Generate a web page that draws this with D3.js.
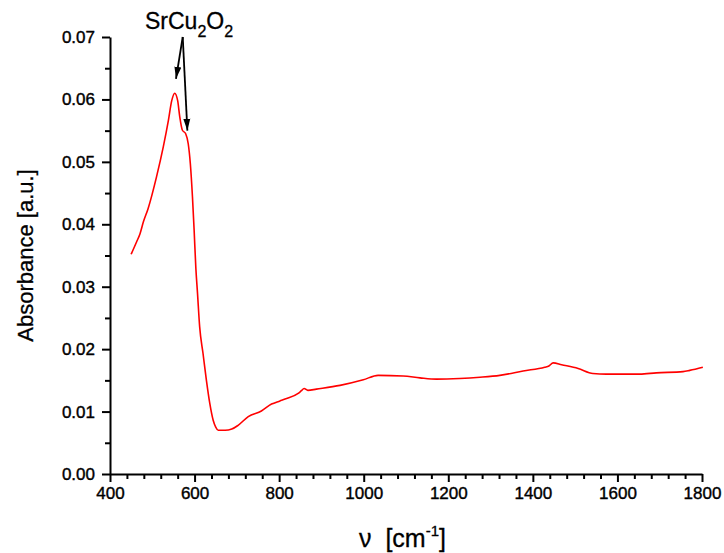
<!DOCTYPE html>
<html>
<head>
<meta charset="utf-8">
<script src="https://cdn.jsdelivr.net/npm/d3@7"></script>
<style>
  body { margin: 0; background: #fff; }
  text { font-family: "Liberation Sans", Arial, sans-serif; }
</style>
</head>
<body>
<div id="chart"></div>
<script>
// spectrum
const wavenumber = [450, 463, 471, 479, 490, 510, 526, 538, 546, 553, 560, 565, 571, 579, 585, 590, 595, 599,
  603, 607, 612, 620, 628, 636, 644, 650, 656, 672, 688, 703, 727, 758, 782, 802, 814, 845, 852, 859, 868,
  888, 944, 999, 1034, 1093, 1133, 1172, 1227, 1275, 1322, 1377, 1428, 1438, 1448, 1468, 1507, 1542, 1574,
  1653, 1692, 1755, 1771, 1802];
const absorbance = [0.0352, 0.0372, 0.0385, 0.0404, 0.0425, 0.0476, 0.0524, 0.0566, 0.0598, 0.0610, 0.0598,
  0.0572, 0.0551, 0.0545, 0.0529, 0.0497, 0.0444, 0.0390, 0.0330, 0.0289, 0.0236, 0.0193, 0.0150, 0.0113,
  0.0086, 0.0075, 0.0070, 0.0070, 0.0072, 0.0078, 0.0092, 0.0101, 0.0112, 0.0117, 0.0120, 0.0129, 0.0133,
  0.0137, 0.0134, 0.0136, 0.0142, 0.0151, 0.0158, 0.0157, 0.0154, 0.0152, 0.0153, 0.0155, 0.0158, 0.0165,
  0.0171, 0.0173, 0.0178, 0.0175, 0.0169, 0.0161, 0.0160, 0.0160, 0.0162, 0.0164, 0.0166, 0.0171];

const xTicks = [400, 600, 800, 1000, 1200, 1400, 1600, 1800];
const yTicks = [0, 0.01, 0.02, 0.03, 0.04, 0.05, 0.06, 0.07];

// annotation: label origin and the two arrow tips (data units)
const arrowStart = [572, 0.0700];
const arrowTips = [[556, 0.0633], [583, 0.0550]];

const width = 724, height = 553;
const margin = { top: 37, right: 22, bottom: 79, left: 110 };

const svg = d3.select("#chart").append("svg")
  .attr("width", width)
  .attr("height", height);

const x = d3.scaleLinear().domain([400, 1800]).range([margin.left, width - margin.right]);
const y = d3.scaleLinear().domain([0, 0.07]).range([height - margin.bottom, margin.top]);

// minor ticks
const xMinor = d3.range(400, 1801, 40).filter(v => v % 200 != 0);
const yMinor = d3.range(0.005, 0.07, 0.01);

svg.append("g")
  .attr("transform", "translate(0," + y(0) + ")")
  .call(d3.axisBottom(x).tickValues(xMinor).tickSize(5).tickFormat(""))
  .call(g => g.select(".domain").remove())
  .selectAll("line").attr("stroke-width", 2);

svg.append("g")
  .attr("transform", "translate(" + x(400) + ",0)")
  .call(d3.axisLeft(y).tickValues(yMinor).tickSize(5).tickFormat(""))
  .call(g => g.select(".domain").remove())
  .selectAll("line").attr("stroke-width", 2);

// major axes
const xAxis = svg.append("g")
  .attr("transform", "translate(0," + y(0) + ")")
  .call(d3.axisBottom(x).tickValues(xTicks).tickSize(8).tickSizeOuter(0).tickPadding(5).tickFormat(d3.format("d")));

const yAxis = svg.append("g")
  .attr("transform", "translate(" + x(400) + ",0)")
  .call(d3.axisLeft(y).tickValues(yTicks).tickSize(8).tickSizeOuter(0).tickPadding(7).tickFormat(d3.format(".2f")));

[xAxis, yAxis].forEach(g => {
  g.select(".domain").attr("stroke-width", 2);
  g.selectAll("line").attr("stroke-width", 2);
  g.selectAll("text").attr("font-size", 17).attr("fill", "#000")
    .attr("stroke", "#000").attr("stroke-width", 0.4)
    .attr("font-family", "'Liberation Sans', Arial, sans-serif");
});

// spectrum
const line = d3.line()
  .x((d, i) => x(wavenumber[i]))
  .y(d => y(d))
  .curve(d3.curveMonotoneX);

svg.append("path")
  .datum(absorbance)
  .attr("d", line)
  .attr("fill", "none")
  .attr("stroke", "#ff0000")
  .attr("stroke-width", 1.6);

// arrows
svg.append("defs").append("marker")
  .attr("id", "head")
  .attr("viewBox", "0 0 12 10")
  .attr("refX", 12).attr("refY", 5)
  .attr("markerWidth", 12).attr("markerHeight", 10)
  .attr("markerUnits", "userSpaceOnUse")
  .attr("orient", "auto")
  .append("path").attr("d", "M0,1.5 L12,5 L0,8.5 Z").attr("fill", "#000");

arrowTips.forEach(t => {
  svg.append("line")
    .attr("x1", x(arrowStart[0])).attr("y1", y(arrowStart[1]))
    .attr("x2", x(t[0])).attr("y2", y(t[1]))
    .attr("stroke", "#000").attr("stroke-width", 1.8)
    .attr("marker-end", "url(#head)");
});

// label SrCu2O2
const lab = svg.append("text")
  .attr("x", 145).attr("y", 29)
  .attr("font-size", 23)
  .attr("stroke", "#000").attr("stroke-width", 0.3);
lab.append("tspan").text("SrCu");
lab.append("tspan").attr("font-size", 16).attr("dy", 8).text("2");
lab.append("tspan").attr("dy", -8).text("O");
lab.append("tspan").attr("font-size", 16).attr("dy", 8).text("2");

// axis titles
svg.append("text")
  .attr("transform", "translate(33," + (margin.top + (y(0) - margin.top) / 2) + ") rotate(-90)")
  .attr("text-anchor", "middle")
  .attr("font-size", 22)
  .attr("stroke", "#000").attr("stroke-width", 0.3)
  .text("Absorbance [a.u.]");

const xt = svg.append("text")
  .attr("x", 359).attr("y", 547)
  .attr("font-size", 25)
  .attr("stroke", "#000").attr("stroke-width", 0.3);
xt.append("tspan").text("\u03bd\u00a0\u00a0[cm");
xt.append("tspan").attr("font-size", 15).attr("dy", -11).text("-1");
xt.append("tspan").attr("dy", 11).text("]");
</script>
</body>
</html>
